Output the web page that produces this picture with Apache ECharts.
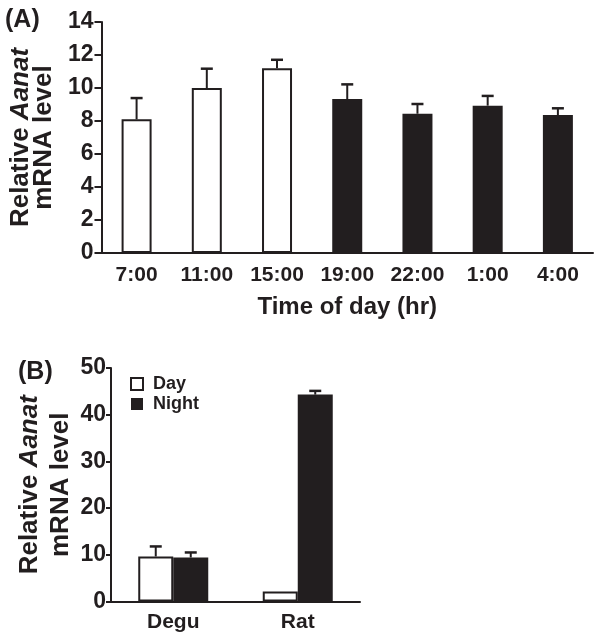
<!DOCTYPE html>
<html>
<head>
<meta charset="utf-8">
<script src="https://cdn.jsdelivr.net/npm/echarts@6/dist/echarts.min.js"></script>
<style>
html,body{margin:0;padding:0;background:#fff;}
#c{width:600px;height:640px;}
</style>
</head>
<body>
<div id="c"></div>
<script>
// ---- Data ----
const timeCats = ['7:00', '11:00', '15:00', '19:00', '22:00', '1:00', '4:00'];
const timeMeans = [8.1, 10.0, 11.2, 9.33, 8.44, 8.93, 8.36];
const timeErrs = [1.29, 1.17, 0.51, 0.89, 0.59, 0.59, 0.41];
const timeIsDay = [true, true, true, false, false, false, false];
const yTicksA = [0, 2, 4, 6, 8, 10, 12, 14];

const speciesCats = ['Degu', 'Rat'];
const dayMeans = [9.64, 2.14];
const dayErrs = [2.15, 0];
const nightMeans = [9.43, 44.3];
const nightErrs = [1.07, 0.8];
const yTicksB = [0, 10, 20, 30, 40, 50];

// ---- Style ----
const FONT = '"Liberation Sans", Arial, Helvetica, sans-serif';
const BLACK = '#221e1f';
const chart = echarts.init(document.getElementById('c'), null, {renderer: 'canvas'});

function errRenderer(offset, capW) {
  return function (params, api) {
    const xi = api.value(0), v = api.value(1), e = api.value(2);
    if (!e) return null;
    const b = api.coord([xi, v]);
    const t = api.coord([xi, v + e]);
    const cx = b[0] + offset;
    return {
      type: 'group',
      children: [
        {type: 'line', shape: {x1: cx, y1: b[1], x2: cx, y2: t[1]}, style: {stroke: BLACK, lineWidth: 2}},
        {type: 'line', shape: {x1: cx - capW / 2, y1: t[1], x2: cx + capW / 2, y2: t[1]}, style: {stroke: BLACK, lineWidth: 2.5}}
      ]
    };
  };
}

const axisLineStyle = {lineStyle: {color: BLACK, width: 2}};
const ytitle = 'Relative {i|Aanat}\nmRNA level';

const option = {
  animation: false,
  backgroundColor: '#fff',
  textStyle: {fontFamily: FONT},
  title: [
    {text: '(A)', left: 5, top: 8, padding: 0, textStyle: {fontSize: 25, fontWeight: 'bold', color: BLACK, fontFamily: FONT}},
    {text: '(B)', left: 18, top: 360, padding: 0, textStyle: {fontSize: 25, fontWeight: 'bold', color: BLACK, fontFamily: FONT}}
  ],
  legend: {
    data: ['Day', 'Night'],
    orient: 'vertical',
    left: 130, top: 375, padding: 0,
    icon: 'rect',
    itemWidth: 12, itemHeight: 12, itemGap: 2,
    textStyle: {fontSize: 18, fontWeight: 'bold', color: BLACK, fontFamily: FONT, padding: [0, 0, 0, 5]}
  },
  grid: [
    {left: 95, right: 7, top: 22, height: 231},
    {left: 111, width: 249, top: 368, height: 233.5}
  ],
  xAxis: [
    {
      type: 'category', gridIndex: 0, data: timeCats,
      axisLine: axisLineStyle,
      axisTick: {length: 6, lineStyle: {color: BLACK, width: 2}},
      axisLabel: {fontSize: 21, fontWeight: 'bold', color: BLACK, margin: 12, fontFamily: FONT},
      name: 'Time of day (hr)', nameLocation: 'middle', nameGap: 42,
      nameTextStyle: {fontSize: 24, fontWeight: 'bold', color: BLACK, fontFamily: FONT}
    },
    {
      type: 'category', gridIndex: 1, data: speciesCats,
      axisLine: axisLineStyle,
      axisTick: {length: 6, lineStyle: {color: BLACK, width: 2}},
      axisLabel: {fontSize: 21, fontWeight: 'bold', color: BLACK, margin: 10, fontFamily: FONT}
    }
  ],
  yAxis: [
    {
      type: 'value', gridIndex: 0, min: yTicksA[0], max: yTicksA[yTicksA.length - 1], interval: yTicksA[1] - yTicksA[0],
      splitLine: {show: false},
      axisLine: {show: true, lineStyle: {color: BLACK, width: 2}},
      axisTick: {show: true, length: 7, lineStyle: {color: BLACK, width: 2}},
      axisLabel: {fontSize: 23, fontWeight: 'bold', color: BLACK, margin: 8, fontFamily: FONT},
      name: ytitle, nameLocation: 'middle', nameRotate: 90, nameGap: 45,
      nameTextStyle: {fontSize: 26, fontWeight: 'bold', color: BLACK, fontFamily: FONT, lineHeight: 23,
        rich: {i: {fontSize: 26, fontWeight: 'bold', fontStyle: 'italic', color: BLACK, fontFamily: FONT, lineHeight: 23}}}
    },
    {
      type: 'value', gridIndex: 1, min: yTicksB[0], max: yTicksB[yTicksB.length - 1], interval: yTicksB[1] - yTicksB[0],
      splitLine: {show: false},
      axisLine: {show: true, lineStyle: {color: BLACK, width: 2}},
      axisTick: {show: true, length: 5, lineStyle: {color: BLACK, width: 2}},
      axisLabel: {fontSize: 23, fontWeight: 'bold', color: BLACK, margin: 5, fontFamily: FONT},
      name: ytitle, nameLocation: 'middle', nameRotate: 90, nameGap: 31,
      nameTextStyle: {fontSize: 26, fontWeight: 'bold', color: BLACK, fontFamily: FONT, lineHeight: 31,
        rich: {i: {fontSize: 26, fontWeight: 'bold', fontStyle: 'italic', color: BLACK, fontFamily: FONT, lineHeight: 31}}}
    }
  ],
  series: [
    {
      name: 'TimeOfDay', type: 'bar', xAxisIndex: 0, yAxisIndex: 0, barWidth: 30,
      data: timeMeans.map((v, i) => ({
        value: v,
        itemStyle: timeIsDay[i]
          ? {color: '#fff', borderColor: BLACK, borderWidth: 2}
          : {color: BLACK, borderWidth: 0}
      }))
    },
    {
      name: 'TimeErr', type: 'custom', xAxisIndex: 0, yAxisIndex: 0, z: 5,
      renderItem: errRenderer(0, 12),
      data: timeMeans.map((v, i) => [i, v, timeErrs[i]])
    },
    {
      name: 'Day', type: 'bar', xAxisIndex: 1, yAxisIndex: 1, barWidth: 35, barGap: '0%',
      itemStyle: {color: '#fff', borderColor: BLACK, borderWidth: 2},
      data: dayMeans
    },
    {
      name: 'Night', type: 'bar', xAxisIndex: 1, yAxisIndex: 1, barWidth: 35, barGap: '0%',
      itemStyle: {color: BLACK, borderWidth: 0},
      data: nightMeans
    },
    {
      name: 'DayErr', type: 'custom', xAxisIndex: 1, yAxisIndex: 1, z: 5,
      renderItem: errRenderer(-17.5, 12),
      data: dayMeans.map((v, i) => [i, v, dayErrs[i]])
    },
    {
      name: 'NightErr', type: 'custom', xAxisIndex: 1, yAxisIndex: 1, z: 5,
      renderItem: errRenderer(17.5, 12),
      data: nightMeans.map((v, i) => [i, v, nightErrs[i]])
    }
  ]
};
chart.setOption(option);
</script>
</body>
</html>
